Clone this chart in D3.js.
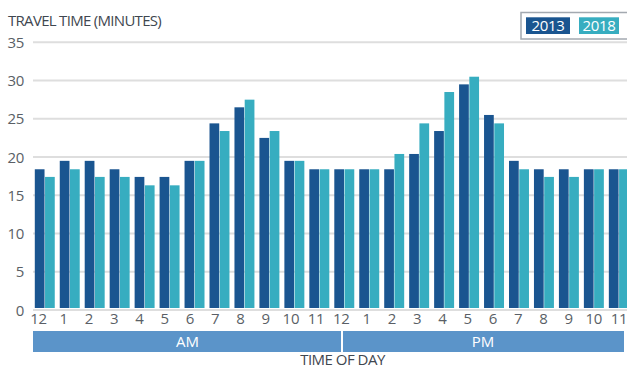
<html>
<head>
  <meta charset="utf-8">
  <script src="https://d3js.org/d3.v7.min.js"></script>
  <style>
    body { margin: 0; background: #fff; }
    text { font-family: "Segoe UI", "Open Sans", sans-serif; }
  </style>
  <script>
    // hours of the day, AM then PM
    var hours = ["12","1","2","3","4","5","6","7","8","9","10","11",
                 "12","1","2","3","4","5","6","7","8","9","10","11"];
    var periods = ["AM", "PM"];
    var series = ["2013", "2018"];
    var values2013 = [18.4,19.5,19.5,18.4,17.4,17.4,19.5,24.4,26.5,22.5,19.5,18.4,
                      18.4,18.4,18.4,20.4,23.4,29.5,25.5,19.5,18.4,18.4,18.4,18.4];
    var values2018 = [17.4,18.4,17.4,17.4,16.3,16.3,19.5,23.4,27.5,23.4,19.5,18.4,
                      18.4,18.4,20.4,24.4,28.5,30.5,24.4,18.4,17.4,17.4,18.4,18.4];
    var yTicks = [0, 5, 10, 15, 20, 25, 30, 35];

    function makeChart() {
      var svg = d3.select( "#chart" );
      var colors = d3.scaleOrdinal().domain( series ).range( ["#1a5590", "#37adc0"] );

      var idx = d3.range( hours.length );
      var sc = d3.scaleBand().domain( idx ).range( [32.3, 631.3] )
          .paddingInner( 0.2 ).paddingOuter( 0.1 );
      var scIn = d3.scaleBand().domain( series ).range( [0, sc.bandwidth()] )
          .paddingInner( 0.05 );
      var scY = d3.scaleLinear().domain( [0, 35] ).range( [310, 42.3] );
      var scLbl = d3.scalePoint().domain( idx ).range( [38.5, 619] );
      var scPer = d3.scaleLinear().domain( [0, 12, 24] ).range( [33, 342, 624] );

      // gridlines
      svg.append( "g" ).selectAll( "line" ).data( yTicks ).enter().append( "line" )
          .attr( "x1", 33 ).attr( "x2", 627 )
          .attr( "y1", scY ).attr( "y2", scY )
          .attr( "stroke", "#dedede" ).attr( "stroke-width", 2 );

      svg.append( "g" ).selectAll( "text" ).data( yTicks ).enter().append( "text" )
          .attr( "x", 24 ).attr( "y", d => scY(d) + 5.5 )
          .attr( "text-anchor", "end" ).attr( "font-size", 15 )
          .attr( "letter-spacing", -0.3 )
          .attr( "fill", "#5a5f66" ).text( d => d );

      // bars
      var rows = idx.map( i => ({ i: i, vals: [
          { s: "2013", v: values2013[i] }, { s: "2018", v: values2018[i] } ] }) );
      var g = svg.append( "g" ).selectAll( "g" ).data( rows ).enter().append( "g" )
          .attr( "transform", d => "translate(" + sc(d.i) + ",0)" );
      g.selectAll( "rect" ).data( d => d.vals ).enter().append( "rect" )
          .attr( "x", d => scIn(d.s) ).attr( "width", scIn.bandwidth() )
          .attr( "y", d => scY(d.v) )
          .attr( "height", d => scY(0) - 2 - scY(d.v) )
          .attr( "fill", d => colors(d.s) );

      // hour labels
      svg.append( "g" ).selectAll( "text" ).data( idx ).enter().append( "text" )
          .attr( "x", scLbl ).attr( "y", 323.5 )
          .attr( "text-anchor", "middle" ).attr( "font-size", 15 )
          .attr( "letter-spacing", -0.3 )
          .attr( "fill", "#5a5f66" ).text( i => hours[i] );

      // AM / PM strip
      var per = svg.append( "g" ).selectAll( "g" ).data( periods ).enter().append( "g" );
      per.append( "rect" )
          .attr( "x", (d, k) => scPer(12*k) + (k > 0 ? 1 : 0) )
          .attr( "width", (d, k) => scPer(12*k+12) - scPer(12*k) - 1 )
          .attr( "y", 331 ).attr( "height", 21 )
          .attr( "fill", "#5b94c9" );
      per.append( "text" )
          .attr( "x", (d, k) => (scPer(12*k) + scPer(12*k+12)) / 2 )
          .attr( "y", 347 ).attr( "text-anchor", "middle" )
          .attr( "font-size", 15 ).attr( "fill", "#fff" ).text( d => d );

      svg.append( "text" ).attr( "x", 342.5 ).attr( "y", 365 )
          .attr( "text-anchor", "middle" ).attr( "font-size", 15 )
          .attr( "letter-spacing", -0.5 )
          .attr( "fill", "#3f4750" ).text( "TIME OF DAY" );

      svg.append( "text" ).attr( "x", 8 ).attr( "y", 26 )
          .attr( "font-size", 15 ).attr( "fill", "#3f4750" )
          .attr( "letter-spacing", -0.7 )
          .text( "TRAVEL TIME (MINUTES)" );

      // legend
      var lg = svg.append( "g" );
      lg.append( "rect" ).attr( "x", 521 ).attr( "y", 12.5 )
          .attr( "width", 110 ).attr( "height", 26.5 )
          .attr( "fill", "#fff" ).attr( "stroke", "#a3a9b0" ).attr( "stroke-width", 1.5 );
      var scLg = d3.scaleOrdinal().domain( series ).range( [[526, 44], [579, 40]] );
      var item = lg.selectAll( "g" ).data( series ).enter().append( "g" );
      item.append( "rect" ).attr( "x", d => scLg(d)[0] ).attr( "width", d => scLg(d)[1] )
          .attr( "y", 17.3 ).attr( "height", 16.7 ).attr( "fill", colors );
      item.append( "text" ).attr( "x", d => scLg(d)[0] + scLg(d)[1] / 2 )
          .attr( "y", 31 ).attr( "text-anchor", "middle" )
          .attr( "font-size", 15 ).attr( "letter-spacing", -0.3 )
          .attr( "fill", "#fff" ).text( d => d );
    }
  </script>
</head>
<body onload="makeChart()">
  <svg id="chart" width="627" height="368"></svg>
</body>
</html>
